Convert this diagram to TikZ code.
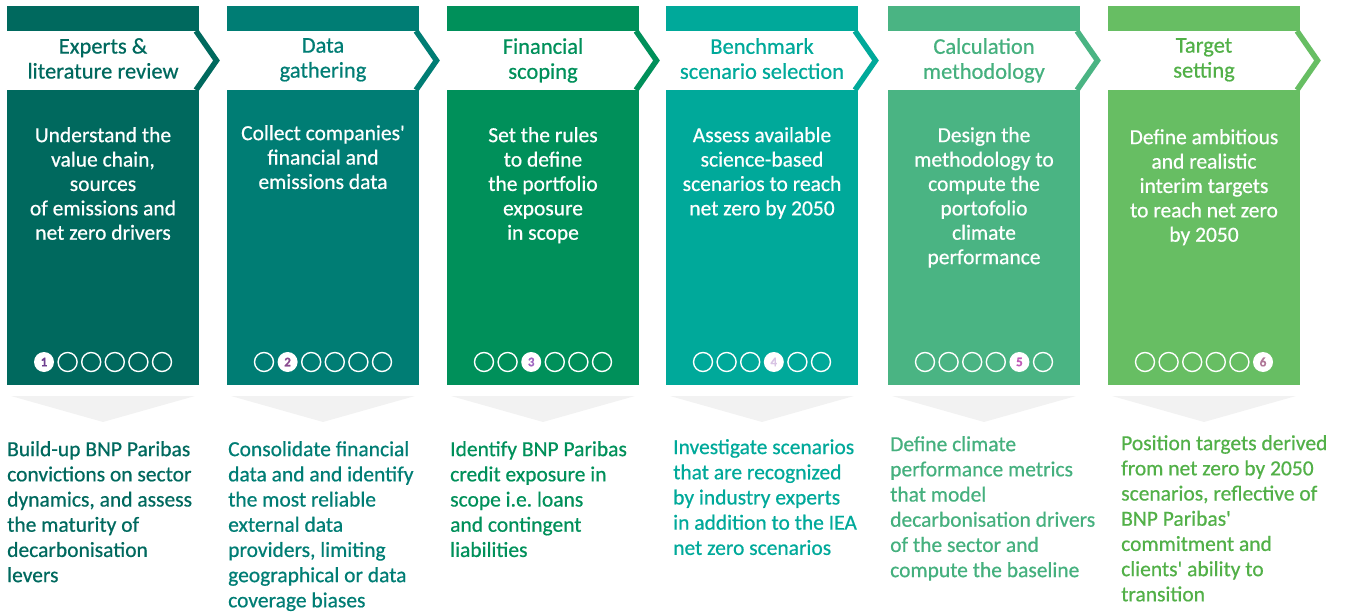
\documentclass[tikz,border=0pt]{standalone}
\usepackage{fontspec}
\setmainfont{Carlito}[FakeBold=0.6, Ligatures=TeXOff]
\definecolor{cA}{HTML}{00695E}
\definecolor{cB}{HTML}{007D74}
\definecolor{cC}{HTML}{00905A}
\definecolor{cD}{HTML}{00A99A}
\definecolor{cE}{HTML}{4AB483}
\definecolor{cF}{HTML}{67BE63}
\definecolor{tA}{HTML}{00695E}
\definecolor{tB}{HTML}{007D74}
\definecolor{tC}{HTML}{00905A}
\definecolor{tD}{HTML}{00A99A}
\definecolor{tE}{HTML}{45B07E}
\definecolor{tF}{HTML}{52B048}
\definecolor{nA}{HTML}{6E3D8F}
\definecolor{nB}{HTML}{8A4A8F}
\definecolor{nC}{HTML}{A066C0}
\definecolor{nD}{HTML}{D8C4E4}
\definecolor{nE}{HTML}{C05CB8}
\definecolor{nF}{HTML}{B07898}
\definecolor{tri}{HTML}{F2F2F2}
\tikzset{
  headtext/.style={anchor=north, inner sep=0pt, align=center, font=\fontsize{22.5}{25}\selectfont},
  bodytext/.style={anchor=north, inner sep=0pt, align=center, text=white, font=\fontsize{21.5}{24.4}\selectfont},
  foottext/.style={anchor=north west, inner sep=0pt, align=left, font=\fontsize{21.5}{25.2}\selectfont},
  dotring/.style={circle, draw=white, line width=1.4pt, minimum size=19pt, inner sep=0pt},
  dotfull/.style={circle, fill=white, minimum size=20pt, inner sep=0pt, font=\bfseries\fontsize{13}{13}\selectfont},
}
% #1 idx, #2 x0, #3 letter (colour set), #4 footer x, #5 header, #6 body, #7 footer, #8 body top, #9 footer top
\newcommand\mystage[9]{%
  \fill[c#3] (#2,6) rectangle (#2+192,31);
  \fill[c#3] (#2,90) rectangle (#2+192,385);
  \draw[c#3, line width=5.5pt, miter limit=10] (#2+189,31) -- (#2+209.5,60.5) -- (#2+189,90);
  \node[headtext, text=t#3] (head#1) at (#2+96,38) {#5};
  \node[bodytext] (body#1) at (#2+96,#8) {#6};
  \foreach \k in {1,...,6}{%
    \ifnum\k=#1
      \node[dotfull, text=n#3] (dot#1-\k) at (#2+96+\k*23.6-3.5*23.6,362) {#1};
    \else
      \node[dotring] (dot#1-\k) at (#2+96+\k*23.6-3.5*23.6,362) {};
    \fi
  }
  \fill[tri] (#2+4,396) -- (#2+188,396) -- (#2+96,422) -- cycle;
  \node[foottext, text=t#3] (foot#1) at (#4,#9) {#7};
}
\begin{document}
\begin{tikzpicture}[x=1pt,y=-1pt]
\useasboundingbox (0,0) rectangle (1346,615);
\mystage{1}{7}{A}{7}{Experts \&\\literature review}
  {Understand the\\value chain,\\sources\\of emissions and\\net zero drivers}
  {Build-up BNP Paribas\\convictions on sector\\dynamics, and assess\\the maturity of\\decarbonisation\\levers}{127}{441}
\mystage{2}{227}{B}{228}{Data\\gathering}
  {Collect companies'\\financial and\\emissions data}
  {Consolidate financial\\data and and identify\\the most reliable\\external data\\providers, limiting\\geographical or data\\coverage biases}{125}{441}
\mystage{3}{447}{C}{450}{Financial\\scoping}
  {Set the rules\\to define\\the portfolio\\exposure\\in scope}
  {Identify BNP Paribas\\credit exposure in\\scope i.e.\ loans\\and contingent\\liabilities}{127}{441}
\mystage{4}{666}{D}{673}{Benchmark\\scenario selection}
  {Assess available\\science-based\\scenarios to reach\\net zero by 2050}
  {Investigate scenarios\\that are recognized\\by industry experts\\in addition to the IEA\\net zero scenarios}{127}{439}
\mystage{5}{888}{E}{890}{Calculation\\methodology}
  {Design the\\methodology to\\compute the\\portofolio\\climate\\performance}
  {Define climate\\performance metrics\\that model\\decarbonisation drivers\\of the sector and\\compute the baseline}{127}{436}
\mystage{6}{1108}{F}{1121}{Target\\setting}
  {Define ambitious\\and realistic\\interim targets\\to reach net zero\\by 2050}
  {Position targets derived\\from net zero by 2050\\scenarios, reflective of\\BNP Paribas'\\commitment and\\clients' ability to\\transition}{129}{435}
\end{tikzpicture}
\end{document}
